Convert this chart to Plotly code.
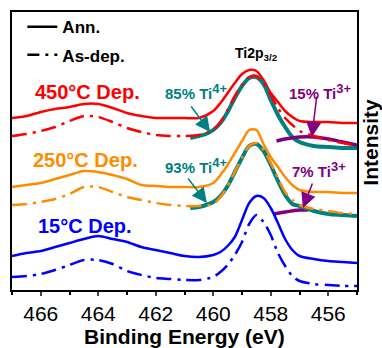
import plotly.graph_objects as go

# Binding energies (eV) for the spectra
energy = [467, 466.5, 466, 465.5, 465, 464.5, 464, 463.5, 463, 462.5, 462, 461.5, 461, 460.5,
          460, 459.75, 459.5, 459.25, 459, 458.75, 458.5, 458.25, 458, 457.75, 457.5, 457.25,
          457, 456.5, 456, 455.5, 455]

# Intensities (arbitrary units, stacked offsets)
red_ann = [172, 174, 178, 181, 183, 186, 186, 182, 177, 174, 172, 172, 172, 172,
           179, 187, 197, 207, 216, 220, 219, 210, 197, 188, 179, 173, 169, 168, 168, 167, 167]
red_asdep = [154, 156, 159, 163, 169, 174, 173, 168, 162, 158, 155, 154, 154, 155,
             160, 168, 180, 194, 205, 213, 214, 207, 195, 182, 172, 165, 159, 154, 150, 147, 144]
orange_ann = [103, 105, 107, 111, 115, 119, 118, 115, 111, 105, 104, 103, 103, 103,
              107, 115, 125, 137, 149, 160, 160, 146, 133, 123, 113, 105, 100, 98, 98, 97, 97]
orange_asdep = [85, 86, 88, 91, 96, 103, 103, 98, 93, 90, 87, 85, 84, 84,
                86, 93, 104, 118, 132, 144, 147, 140, 127, 112, 98, 90, 85, 81, 79, 77, 76]
blue_ann = [34, 37, 39, 43, 47, 51, 54, 51, 48, 43, 40, 37, 34, 33,
            35, 38, 44, 53, 70, 87, 94, 92, 82, 67, 51, 40, 34, 31, 29, 28, 27]
blue_asdep = [13, 14, 16, 20, 25, 30, 30, 26, 19, 15, 12, 11, 10, 10,
              13, 18, 25, 35, 48, 66, 75, 68, 55, 37, 24, 14, 9, 6, 5, 4, 4]

# Fit envelopes (Ti4+ dominated) and Ti3+ components
fit_energy = [460.8, 460.5, 460.25, 460, 459.75, 459.5, 459.25, 459, 458.75, 458.5, 458.25,
              458, 457.75, 457.5, 457.25, 457, 456.5, 456, 455.5, 455]
fit_450 = [152, 154, 156, 160, 167, 178, 192, 204, 212, 213, 206, 190, 175, 163, 153, 148, 144, 143, 142, 142]
fit_250 = [82, 83, 85, 88, 94, 104, 118, 132, 144, 146, 139, 125, 109, 95, 86, 84, 79, 76, 75, 74]

ti3_energy_450 = [457.8, 457.5, 457.0, 456.5, 456.0, 455.5, 455.0]
ti3_450 = [149, 151, 153, 153, 151, 148, 145]
ti3_energy_250 = [457.9, 457.5, 457.0, 456.7]
ti3_250 = [76, 78, 80, 80]

RED = "#ff0000"
ORANGE = "#ff8c00"
BLUE = "#0000ff"
TEAL = "#008080"
PURPLE = "#800080"
DASHDOT = "15px,6px,3px,6px"
FONT = "Arial, Liberation Sans, sans-serif"

fig = go.Figure()

def add(x, y, color, width, dash="solid"):
    fig.add_trace(go.Scatter(x=x, y=y, mode="lines", showlegend=False, hoverinfo="skip",
                             line=dict(color=color, width=width, dash=dash, shape="spline", smoothing=0.8)))

# 450 °C
add(energy, red_ann, RED, 2.5)
add(fit_energy, fit_450, TEAL, 4)
add(ti3_energy_450, ti3_450, PURPLE, 3.5)
add(energy, red_asdep, RED, 2.5, DASHDOT)
# 250 °C
add(energy, orange_ann, ORANGE, 2.5)
add(ti3_energy_250, ti3_250, PURPLE, 3.5)
add(fit_energy, fit_250, TEAL, 4)
add(energy, orange_asdep, ORANGE, 2.5, DASHDOT)
# 15 °C
add(energy, blue_ann, BLUE, 2.5)
add(energy, blue_asdep, BLUE, 2.5, DASHDOT)

# legend entries
fig.add_trace(go.Scatter(x=[None], y=[None], mode="lines", name="<b>Ann.</b>", legendgroup="a",
                         line=dict(color="black", width=2.5)))
fig.add_trace(go.Scatter(x=[None], y=[None], mode="lines", name="<b>As-dep.</b>", legendgroup="b",
                         line=dict(color="black", width=2.5, dash="12px,6px,3px,6px")))

ann = []
def text(x, y, s, color, size):
    ann.append(dict(x=x, y=y, xref="x", yref="y", text=s, showarrow=False,
                    font=dict(family=FONT, size=size, color=color), xanchor="center", yanchor="middle"))

def arrow(x, y, ax, ay, color):
    ann.append(dict(x=x, y=y, xref="x", yref="y", text="", showarrow=True, ax=ax, ay=ay,
                    arrowhead=2, arrowsize=2, arrowwidth=1.5, arrowcolor=color))

SUP = "<sup><span style='font-size:13px'>%s</span></sup>"
text(464.39, 198, "<b>450°C Dep.</b>", RED, 20)
text(464.43, 130, "<b>250°C Dep.</b>", ORANGE, 20)
text(464.46, 64, "<b>15°C Dep.</b>", BLUE, 20)
text(458.48, 236, "<b>Ti2p<sub>3/2</sub></b>", "black", 14)
text(460.6, 199, "<b>85% Ti" + SUP % "4+" + "</b>", TEAL, 15)
text(456.29, 199, "<b>15% Ti" + SUP % "3+" + "</b>", PURPLE, 15)
text(460.6, 125, "<b>93% Ti" + SUP % "4+" + "</b>", TEAL, 15)
text(456.32, 121, "<b>7% Ti" + SUP % "3+" + "</b>", PURPLE, 15)
arrow(460.11, 158, -20, -27, TEAL)
arrow(456.57, 153, 5, -42, PURPLE)
arrow(460.22, 87, -20, -26, TEAL)
arrow(456.88, 82, 10, -26, PURPLE)

# axis titles
ann.append(dict(x=0.5, y=0, xref="paper", yref="paper", text="<b>Binding Energy (eV)</b>",
                showarrow=False, xanchor="center", yanchor="middle", yshift=-46,
                font=dict(family=FONT, size=21, color="black")))
ann.append(dict(x=1, y=0.53, xref="paper", yref="paper", text="<b>Intensity</b>", textangle=-90,
                showarrow=False, xanchor="center", yanchor="middle", xshift=14,
                font=dict(family=FONT, size=21, color="black")))

fig.update_layout(
    width=382, height=348,
    margin=dict(l=12, r=25, t=12, b=58, autoexpand=False),
    paper_bgcolor="white", plot_bgcolor="white",
    font=dict(family=FONT, color="black"),
    annotations=ann,
    legend=dict(x=0.03, y=1.01, xanchor="left", yanchor="top", bgcolor="rgba(0,0,0,0)",
                font=dict(family=FONT, size=17, color="black"), tracegroupgap=3,
                itemwidth=30),
    xaxis=dict(range=[467, 455], dtick=2, tick0=456, ticks="outside", ticklen=4, tickwidth=1.5,
               showline=True, linecolor="black", linewidth=1.5, mirror=True, showgrid=False, zeroline=False,
               automargin=False,
               tickfont=dict(family=FONT, size=21, color="black"),
               minor=dict(dtick=1, ticks="outside", ticklen=3, tickwidth=1.5, tickcolor="black", showgrid=False)),
    yaxis=dict(range=[0, 278], showticklabels=False, ticks="", showgrid=False, zeroline=False,
               showline=True, linecolor="black", linewidth=1.5, mirror=True, automargin=False),
)

fig.write_html("out.html", post_script="document.body.style.margin='0';",
               config={"displayModeBar": False})
